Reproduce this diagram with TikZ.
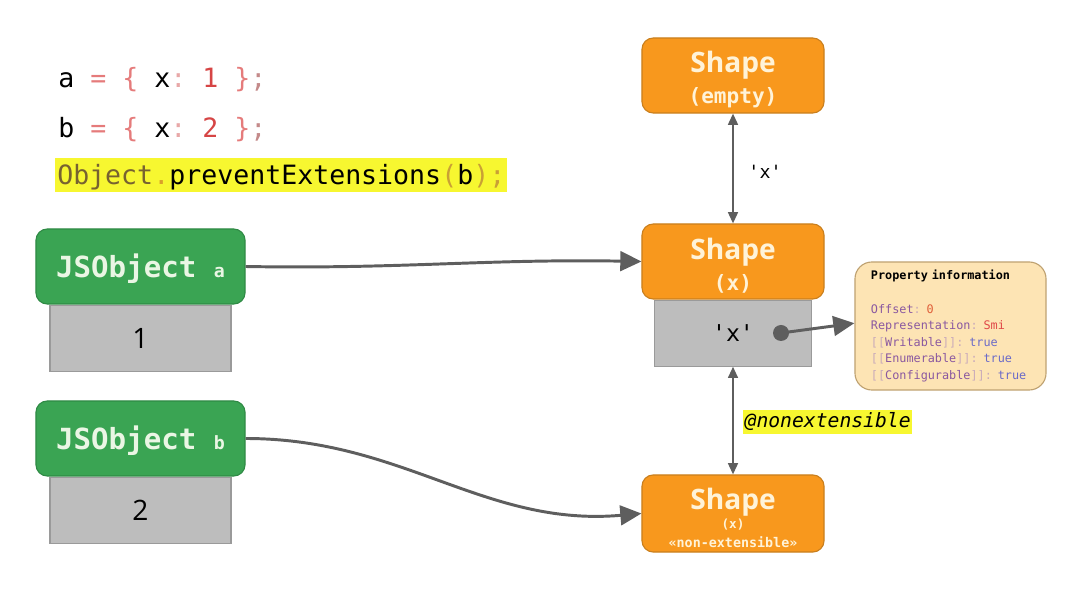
\documentclass[tikz,border=0pt]{standalone}
\usepackage{fontspec}
\setmainfont{Open Sans}
\setmonofont{DejaVu Sans Mono}
\usepackage{xcolor}
\usepackage{tikz}
\usetikzlibrary{positioning}
\usetikzlibrary{shapes,arrows.meta}
\definecolor{shapeorange}{HTML}{F8981D}
\definecolor{shapeborder}{HTML}{C97F1E}
\definecolor{shapetext}{HTML}{FFF3D8}
\definecolor{objgreen}{HTML}{3AA453}
\definecolor{objborder}{HTML}{2F8A45}
\definecolor{objtext}{HTML}{EAF6E4}
\definecolor{slotgray}{HTML}{BDBDBD}
\definecolor{slotborder}{HTML}{9A9A9A}
\definecolor{arrowgray}{HTML}{5E5E5E}
\definecolor{propfill}{HTML}{FDE4B4}
\definecolor{propborder}{HTML}{BFA272}
\definecolor{propkey}{HTML}{8A58A0}
\definecolor{propsep}{HTML}{C9AABA}
\definecolor{propnum}{HTML}{E0603A}
\definecolor{proprep}{HTML}{E04848}
\definecolor{proptrue}{HTML}{6A6AC8}
\definecolor{codepunct}{HTML}{E57B7B}
\definecolor{codecolon}{HTML}{E8A8A8}
\definecolor{codenum}{HTML}{D64545}
\definecolor{codesemi}{HTML}{C48A8A}
\definecolor{hiyellow}{HTML}{F7F730}
\definecolor{hiobject}{HTML}{776230}
\definecolor{hidot}{HTML}{D9A02A}
\definecolor{hiparen}{HTML}{C9A035}
\tikzstyle{shapeblock} = [rectangle, draw=shapeborder, fill=shapeorange, text=shapetext,
line width=0.8pt, rounded corners=8pt, minimum width=4.55cm, minimum height=1.875cm, align=center,
font=\bfseries\fontsize{20}{22}\selectfont]
\tikzstyle{objblock} = [rectangle, draw=objborder, fill=objgreen, text=objtext,
line width=0.8pt, rounded corners=8pt, minimum width=5.225cm, minimum height=1.875cm,
font=\ttfamily\bfseries\fontsize{20.7}{24}\selectfont]
\tikzstyle{slot} = [rectangle, draw=slotborder, fill=slotgray, line width=0.8pt,
minimum height=1.65cm, font=\fontsize{20}{24}\selectfont]
\tikzstyle{code} = [inner sep=0pt, font=\ttfamily\fontsize{18.9}{24}\selectfont]
\tikzstyle{line} = [draw=arrowgray, line width=2.1pt, -{Triangle[length=15pt,width=14pt]}]
\tikzstyle{link} = [draw=arrowgray, line width=1.4pt, {Triangle[length=8pt,width=7pt]}-{Triangle[length=8pt,width=7pt]}]
\newcommand{\pk}[1]{{\color{propkey}#1}}
\newcommand{\ps}[1]{{\color{propsep}#1}}

\begin{document}
\begin{tikzpicture}[x=0.025cm, y=-0.025cm]
\useasboundingbox (0,0) rectangle (1080,602);
    % code
\node [code, anchor=base west] (code1) at (58,88) {a {\color{codepunct}=} {\color{codepunct}\{} x{\color{codecolon}:} {\color{codenum}1} {\color{codepunct}\}}{\color{codesemi};}};
\node [code, anchor=base west] (code2) at (58,138) {b {\color{codepunct}=} {\color{codepunct}\{} x{\color{codecolon}:} {\color{codenum}2} {\color{codepunct}\}}{\color{codesemi};}};
\node [code, anchor=base west, fill=hiyellow, inner xsep=1.4pt, text height=19.2pt, text depth=5pt] (code3) at (55,185) {{\color{hiobject}Object}{\color{hidot}.}preventExtensions{\color{hiparen}(}b{\color{hiparen})}{\color{hiparen};}};

    % nodes
\node [shapeblock] (she) at (733,75.5) {\rule{0pt}{21.5pt}Shape\\{\ttfamily\fontsize{15}{22}\selectfont (empty)}};
\node [shapeblock] (shx) at (733,261.5) {\rule{0pt}{21.5pt}Shape\\{\ttfamily\fontsize{15}{22}\selectfont (x)}};
\node [slot, minimum width=3.925cm, below=0pt of shx, font=\ttfamily\fontsize{16.5}{20}\selectfont] (slotx) {'x'};
\node [shapeblock] (shn) at (733,513.5) {\rule{0pt}{21pt}Shape\\[-8pt]{\ttfamily\fontsize{9}{12}\selectfont (x)}\\[-9pt]{\ttfamily\fontsize{9.5}{12}\selectfont «non-extensible»}};
\node [objblock] (jsa) at (140.5,266.5) {\rule{0pt}{20pt}JSObject {\fontsize{13}{13}\selectfont a}};
\node [slot, minimum width=4.525cm, below=0pt of jsa] (slota) {1};
\node [objblock] (jsb) at (140.5,438.5) {\rule{0pt}{20pt}JSObject {\fontsize{13}{13}\selectfont b}};
\node [slot, minimum width=4.525cm, below=0pt of jsb] (slotb) {2};
\node [circle, fill=arrowgray, inner sep=0pt, minimum size=0.4cm] (dot) at (781,333) {};
\node [rectangle, draw=propborder, fill=propfill, line width=0.8pt, rounded corners=12pt,
  minimum width=4.775cm, minimum height=3.2cm, text width=3.975cm, inner xsep=0.4cm, align=left,
  font=\ttfamily\fontsize{8.4}{11.7}\selectfont] (prop) at (950.5,326)
  {\textbf{Property information}\\[12pt]
   \pk{Offset}\ps{:} {\color{propnum}0}\\
   \pk{Representation}\ps{:} {\color{proprep}Smi}\\
   \ps{[[}\pk{Writable}\ps{]]:} {\color{proptrue}true}\\
   \ps{[[}\pk{Enumerable}\ps{]]:} {\color{proptrue}true}\\
   \ps{[[}\pk{Configurable}\ps{]]:} {\color{proptrue}true}};
\node [font=\ttfamily\fontsize{13}{14}\selectfont] (lblx) at (765,172) {'x'};
\node [anchor=base west, fill=hiyellow, inner xsep=1pt, inner ysep=0pt, text height=12.8pt, text depth=4.3pt,
  font=\ttfamily\itshape\fontsize{14}{16}\selectfont] (lblnx) at (743,428) {@nonextensible};

    %edges
\path [link] (she) -- (shx);
\path [link] (slotx) -- (shn);
\draw [line] (jsa.east) to[out=-1,in=179] (shx.west);
\draw [line] (jsb.east) to[out=0,in=185] (shn.west);
\draw [line] (dot.center) -- ([yshift=2pt]prop.west);

\end{tikzpicture}
\end{document}
